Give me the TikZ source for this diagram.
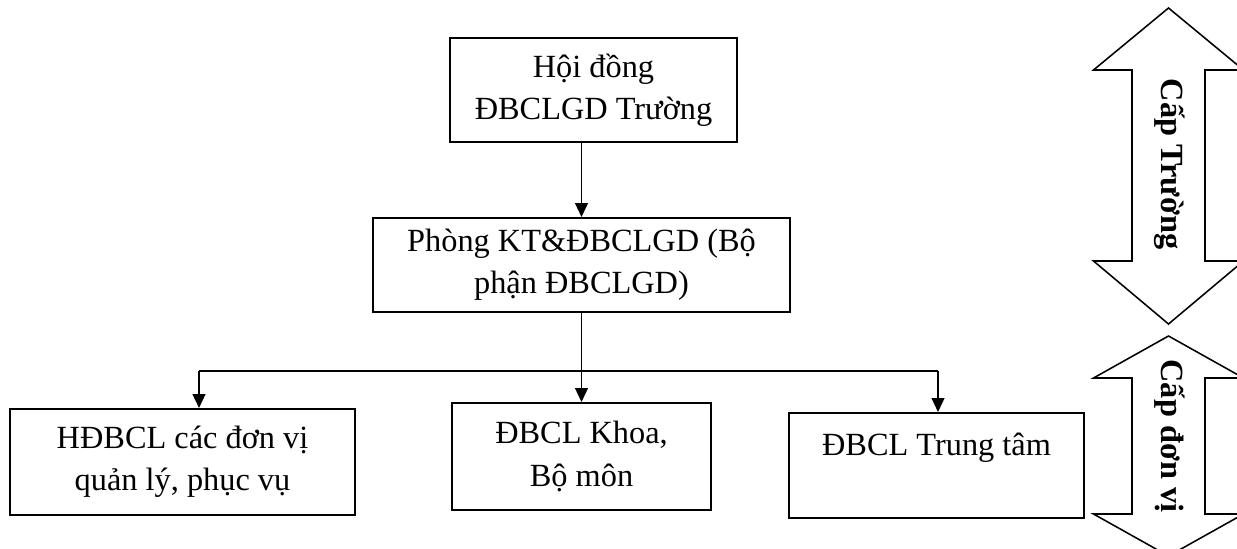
\documentclass[tikz,border=0pt]{standalone}
\usepackage{fontspec}
\setmainfont{Liberation Serif}
\usetikzlibrary{arrows.meta}

\begin{document}
\begin{tikzpicture}[x=0.025cm,y=-0.025cm,line width=1.4pt,>={Triangle[length=0.35cm,width=0.32cm]},every node/.style={font=\fontsize{23}{30}\selectfont},box/.style={draw,align=center,inner sep=0pt},level/.style={draw,line width=1.1pt,line join=miter},levellabel/.style={rotate=-90,font=\fontsize{23}{30}\selectfont\bfseries}]
\useasboundingbox (0,0) rectangle (1237,548);
\node[box, minimum width=7.175cm, minimum height=2.6cm] (hd) at (593.5,90) {Hội đồng\\ĐBCLGD Trường};
\node[box, minimum width=10.425cm, minimum height=2.35cm] (pb) at (581.5,265) {Phòng KT\&ĐBCLGD (Bộ\\phận ĐBCLGD)};
\node[box, minimum width=8.625cm, minimum height=2.65cm] (hdl) at (182.5,462) {HĐBCL các đơn vị\\quản lý, phục vụ};
\node[box, minimum width=6.475cm, minimum height=2.675cm] (kh) at (581.5,456.5) {ĐBCL Khoa,\\Bộ môn};
\node[box, minimum width=7.35cm, minimum height=2.625cm] (tt) at (936.5,465.5) {ĐBCL Trung tâm\\\mbox{}};
\coordinate (split) at (581.5,371);
\coordinate (lt) at (199,371);
\coordinate (rt) at (938,371);
\draw[->] (hd.south -| pb.north) -- (pb.north);
\draw (pb.south) -- (split);
\draw (lt) -- (rt);
\draw[->] (lt) -- (lt |- hdl.north);
\draw[->] (split) -- (kh.north);
\draw[->] (rt) -- (rt |- tt.north);
\draw[level] (1168.5,8) -- (1243.5,70) -- (1205,70) -- (1205,261) -- (1243.5,261) -- (1168.5,324) -- (1093.5,261) -- (1132,261) -- (1132,70) -- (1093.5,70) -- cycle;
\node[levellabel] (captruong) at (1170,164) {Cấp Trường};
\draw[level] (1168.5,336) -- (1243.5,378) -- (1205,378) -- (1205,514) -- (1243.5,514) -- (1168.5,556) -- (1093.5,514) -- (1132,514) -- (1132,378) -- (1093.5,378) -- cycle;
\node[levellabel] (capdonvi) at (1170,436) {Cấp đơn vị};
\end{tikzpicture}
\end{document}
